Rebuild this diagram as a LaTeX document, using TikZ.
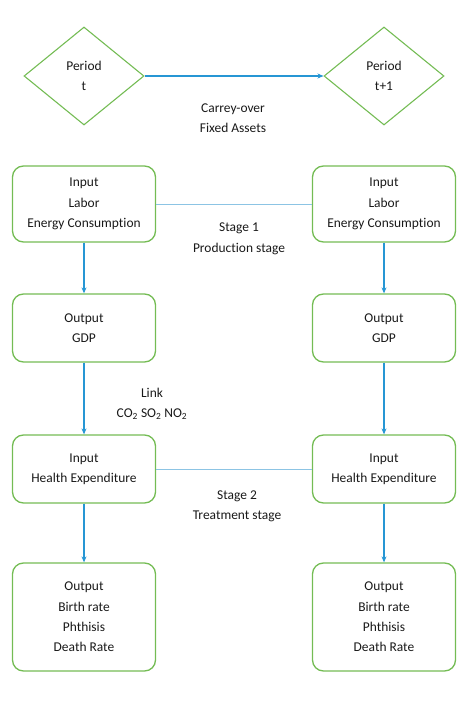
\documentclass[tikz,border=0pt]{standalone}
\usepackage{fontspec}
\setmainfont{Carlito}[Ligatures=NoCommon]
\usetikzlibrary{shapes.geometric,arrows.meta}
\definecolor{boxgreen}{RGB}{116,188,84}
\definecolor{arrblue}{RGB}{38,150,212}
\definecolor{linkblue}{RGB}{140,196,228}
\tikzset{
  txt/.style={align=center,font=\fontsize{13.5}{20.5}\selectfont,text=black!90},
  box/.style={txt,draw=boxgreen,line width=1.3bp,rounded corners=11bp,minimum width=143bp,inner sep=0pt},
  dia/.style={txt,draw=boxgreen,line width=1.1bp,diamond,minimum width=120bp,minimum height=98bp,inner sep=0pt},
  arr/.style={draw=arrblue,line width=1.3bp,-{Stealth[length=6bp,width=5bp]}},
  conn/.style={draw=linkblue,line width=1bp},
}
\begin{document}
\begin{tikzpicture}[x=1bp,y=-1bp]
\useasboundingbox (0,0) rectangle (474,718);
\node[dia] (P0) at (84,76) {Period\\t};
\node[dia] (P1) at (384,76) {Period\\t+1};
\node[txt] (carry) at (233,118) {Carrey-over\\Fixed Assets};

\node[box,minimum height=76bp] (A1) at (84,204) {Input\\Labor\\Energy Consumption};
\node[box,minimum height=76bp] (B1) at (384,204) {Input\\Labor\\Energy Consumption};
\node[box,minimum height=68bp] (A2) at (84,328) {Output\\GDP};
\node[box,minimum height=68bp] (B2) at (384,328) {Output\\GDP};
\node[box,minimum height=68bp] (A3) at (84,469) {Input\\Health Expenditure};
\node[box,minimum height=68bp] (B3) at (384,469) {Input\\Health Expenditure};
\node[box,minimum height=108bp] (A4) at (84,617) {Output\\Birth rate\\Phthisis\\Death Rate};
\node[box,minimum height=108bp] (B4) at (384,617) {Output\\Birth rate\\Phthisis\\Death Rate};

\node[txt] (s1) at (239,239) {Stage 1\\Production stage};
\node[txt] (lk) at (152,404) {Link\\CO\textsubscript{2} SO\textsubscript{2} NO\textsubscript{2}};
\node[txt] (s2) at (237,506) {Stage 2\\Treatment stage};

\draw[arr] (P0.east) -- (P1.west);
\draw[conn] (A1.east) -- (B1.west);
\draw[conn] (A3.east) -- (B3.west);
\draw[arr] (A1.south) -- (A2.north);
\draw[arr] (A2.south) -- (A3.north);
\draw[arr] (A3.south) -- (A4.north);
\draw[arr] (B1.south) -- (B2.north);
\draw[arr] (B2.south) -- (B3.north);
\draw[arr] (B3.south) -- (B4.north);
\end{tikzpicture}
\end{document}
